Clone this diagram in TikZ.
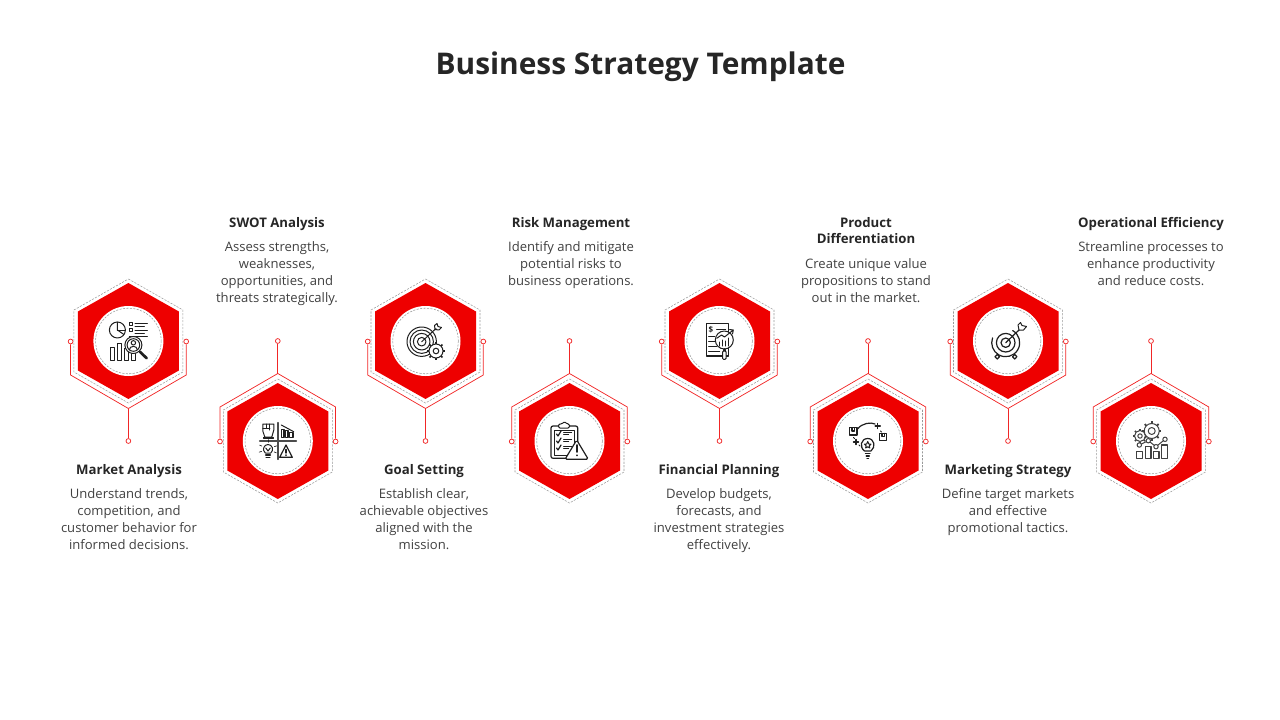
\documentclass[tikz,border=0pt]{standalone}
\usepackage{fontspec}
\setmainfont{Open Sans}
\usetikzlibrary{positioning}
\definecolor{hexred}{HTML}{EE0000}
\definecolor{inkdark}{HTML}{262626}
\definecolor{inkbody}{HTML}{404040}
\tikzset{
  hexfill/.style={fill=hexred,draw=none},
  hexdash/.style={draw=gray!80,line width=0.4pt,dash pattern=on 1.6pt off 1pt},
  hexline/.style={draw=hexred!85!white,line width=0.55pt},
  pinhead/.style={circle,draw=hexred!85!white,fill=white,line width=0.55pt,minimum size=3.6pt,inner sep=0pt},
  headtxt/.style={align=center,inner sep=0pt,text=inkdark,font=\fontsize{9.9}{12}\selectfont\bfseries},
  bodytxt/.style={align=center,inner sep=0pt,text=inkbody,font=\fontsize{9.8}{12.75}\selectfont},
  icon/.style={draw=black!88,line width=0.75pt,line join=round,line cap=round},
  iconthick/.style={icon,line width=1.3pt},
}
% one hexagon with its circuit lines, #4 = 1 stem down, -1 stem up
\newcommand{\hexunit}[4]{
  \begin{scope}[shift={(#2,#3)}]
    \fill[hexfill] (0,-58) -- (50.5,-29.5) -- (50.5,29.5) -- (0,58) -- (-50.5,29.5) -- (-50.5,-29.5) -- cycle;
    \draw[hexdash] (0,-62) -- (54.5,-31) -- (54.5,31) -- (0,62) -- (-54.5,31) -- (-54.5,-31) -- cycle;
    \fill[white] (0,0) circle (35);
    \draw[hexdash] (0,0) circle (32.8);
    \coordinate (#1sl) at (-57.8,34*#4);
    \coordinate (#1sr) at (57.8,34*#4);
    \coordinate (#1tip) at (0,67.5*#4);
    \node[pinhead] (#1l) at (-57.8,0.5) {};
    \node[pinhead] (#1r) at (57.8,0.5) {};
    \node[pinhead] (#1s) at (0,100*#4) {};
    \draw[hexline] (#1l) -- (#1sl) -- (#1tip) -- (#1sr) -- (#1r);
    \draw[hexline] (#1tip) -- (#1s);
  \end{scope}
}
\newcommand{\icongear}[4][icon]{
  \draw[#1,fill=white] (#2) circle (#3);
  \foreach \a in {0,45,...,315}
    \draw[#1,line width=1.3pt,line cap=butt] (#2) ++(\a:#3) -- ++(\a:#3*0.3);
  \draw[#1] (#2) circle (#4);
}
\begin{document}
\begin{tikzpicture}[x=0.75pt,y=-0.75pt]
  \useasboundingbox (0,0) rectangle (1280,720);
  \node[text=inkdark,font=\fontsize{22.4}{28}\selectfont\bfseries] (title) at (640.5,66.5) {Business Strategy Template};

  \hexunit{market}{128.4}{341}{1}
  \hexunit{swot}{277.8}{441}{-1}
  \hexunit{goal}{425.5}{341}{1}
  \hexunit{risk}{569.5}{441}{-1}
  \hexunit{fin}{719.5}{341}{1}
  \hexunit{prod}{868}{441}{-1}
  \hexunit{mark}{1008}{341}{1}
  \hexunit{oper}{1151}{441}{-1}

  % market icon
  \begin{scope}[shift={(128.4,341)}]
    \draw[icon] (-11,-11) circle (8);
    \draw[icon] (-11,-19) -- (-11,-11) -- (-4.5,-6.5);
    \draw[icon] (-11,-11) -- (-3,-11);
    \draw[icon] (1,-18.5) rectangle (4,-15.5) (1,-12.5) rectangle (4,-9.5);
    \draw[icon] (6.6,-17.5) -- (19,-17.5) (6.6,-14.5) -- (16,-14.5) (6.6,-11) -- (19,-11) (6.6,-8) -- (16,-8) (1,-5) -- (19,-5);
    \draw[icon] (-18.4,6) rectangle (-14,19) (-11,2) rectangle (-6.7,19) (-4,7) rectangle (0,19) (3.3,11) rectangle (7.3,19);
    \draw[iconthick,line width=2pt] (11.6,10.7) -- (18.3,17.3);
    \draw[icon,fill=white] (5,4) circle (8.5);
    \draw[icon] (5,4) circle (6.3);
    \draw[icon] (5,1.8) circle (2.2);
    \draw[icon] (1,8.8) arc (180:360:4 and 3.5);
  \end{scope}
  % swot icon
  \begin{scope}[shift={(277.8,441)}]
    \draw[iconthick,draw=black!70] (-18,0) -- (18.5,0) (0.2,-18.3) -- (0.2,18.3);
    \draw[icon] (-15,-17) -- (-15,-10) .. controls (-15,-7) and (-13,-7) .. (-13,-4) -- (-6,-4) .. controls (-6,-7) and (-4,-8) .. (-4,-11) -- (-4,-17) -- cycle;
    \draw[icon] (-15,-13) -- (-8,-13) (-11.5,-17) -- (-11.5,-13) (-8,-17) -- (-8,-11);
    \draw[icon] (-14.5,-2.5) rectangle (-4.5,-4);
    \draw[icon] (3.5,-16) -- (15.9,-9.3);
    \draw[iconthick,line width=0.9pt] (3.5,-11.7) rectangle (6.2,-3.7) (7.5,-10.3) rectangle (10.2,-3.7) (11.9,-8.3) rectangle (15.2,-3.7);
    \draw[icon] (-12.5,12) .. controls (-16,9) and (-14,3.5) .. (-9.8,3.5) .. controls (-5.5,3.5) and (-3.5,9) .. (-7,12) -- cycle;
    \draw[iconthick] (-12,14) -- (-7.5,14) (-11.5,16.5) -- (-8,16.5);
    \draw[icon] (-12,7) -- (-9.8,10) -- (-7.5,7);
    \foreach \a in {-20,25,160,205,270} \draw[icon,line width=0.5pt] (-9.8,8) ++(\a:6.8) -- ++(\a:2.5);
    \draw[icon,line width=0.9pt] (1.9,16.3) -- (14.5,16.3) -- (8.2,4) -- cycle;
    \draw[iconthick,line width=1.1pt] (8.2,8.5) -- (8.2,12) (8.2,14) -- (8.2,14.3);
  \end{scope}
  % goal icon
  \begin{scope}[shift={(425.5,341)}]
    \foreach \r in {14.7,11.7,8.3,4.3} \draw[icon] (-3.8,0.7) circle (\r);
    \draw[icon] (-3.8,0.7) -- (10.5,-12.5);
    \draw[icon] (9.5,-11.5) -- (9,-15.5) -- (11.5,-17.5) -- (12.5,-14.5) -- (16,-13.5) -- (13.5,-11) -- cycle;
    \icongear{10.5,10}{7}{2.8}
  \end{scope}
  % risk icon
  \begin{scope}[shift={(569.5,441)}]
    \draw[icon,line width=0.9pt,rounded corners=1.5pt] (-18.5,-15) rectangle (8.2,17.3);
    \draw[icon] (-15,-11) rectangle (5,14);
    \draw[icon,fill=white,rounded corners=1pt] (-11,-13) -- (-11,-17) -- (-7.5,-17) -- (-5,-19.5) -- (-2.5,-17) -- (0,-17) -- (0,-13) -- cycle;
    \foreach \y in {-7,0,7} {
      \draw[icon,line width=0.9pt] (-13,\y) -- (-11.5,{\y+2}) -- (-8.5,{\y-3});
      \draw[icon] (-6,{\y-2}) -- (2,{\y-2}) (-6,{\y+0.5}) -- (-1,{\y+0.5});
    }
    \draw[icon,line width=0.9pt,fill=white,rounded corners=1.2pt] (-4.5,18.3) -- (18.8,18.3) -- (7.2,-1) -- cycle;
    \draw[iconthick] (7.2,4) -- (7.2,11) (7.2,14.2) -- (7.2,14.5);
  \end{scope}
  % financial icon
  \begin{scope}[shift={(719.5,341)}]
    \draw[icon,line width=0.9pt] (-12.8,-17.7) -- (8.8,-17.7) -- (8.8,15) -- (-12.8,15) -- cycle;
    \node[inner sep=0pt,font=\fontsize{6}{6}\selectfont\bfseries,text=black!88] (finsign) at (-8.5,-11.7) {\$};
    \draw[icon] (-3,-12) -- (6,-12) (-11,-5) -- (-5,-5) (-11,0) -- (-5,0) (-11,5) -- (-3,5) (-11,10) -- (0,10);
    \draw[icon,fill=white] (4.8,-1) circle (9);
    \draw[iconthick,line width=2pt] (4.8,8.5) -- (4.8,10);
    \draw[icon,fill=white,rounded corners=0.8pt] (3,10) rectangle (6.6,18.3);
    \draw[icon] (0,5) -- (0,1) (3,5) -- (3,-1) (6,5) -- (6,0) (9,5) -- (9,-3);
    \draw[icon] (-2.8,-2.7) -- (2,-6) -- (5,-4) -- (13.8,-11) (10,-11.5) -- (13.8,-11) -- (13,-7);
  \end{scope}
  % product icon
  \begin{scope}[shift={(868,441)}]
    \draw[icon,line width=0.9pt] (-3.5,10) .. controls (-9,6) and (-7,-2.5) .. (-0.3,-2.5) .. controls (6.5,-2.5) and (8,6) .. (3,10) -- cycle;
    \draw[iconthick,line width=1pt] (-2.5,12.5) -- (2,12.5) (-1.8,15) -- (1.3,15) (-1,17.5) -- (0.5,17.5);
    \draw[icon] (-0.3,0.5) -- (0.8,3) -- (3,3.2) -- (1.3,4.8) -- (1.8,7) -- (-0.3,5.8) -- (-2.4,7) -- (-1.9,4.8) -- (-3.6,3.2) -- (-1.4,3) -- cycle;
    \draw[icon,line width=0.9pt] (-18.3,-13.3) rectangle (-11,-6) (11.3,-7.7) rectangle (18.7,-0.3);
    \draw[icon,line width=1pt] (-16,-13) -- (-16,-10) -- (-13.5,-10) -- (-13.5,-13) (14,-7.5) -- (14,-4.5) -- (16.5,-4.5) -- (16.5,-7.5);
    \draw[icon,line width=0.9pt] (-10.5,-12) .. controls (-6,-18) and (3,-19) .. (7,-17);
    \draw[iconthick,line width=1.1pt] (9.7,-17.5) -- (9.7,-12.5) (7.2,-15) -- (12.2,-15) (-12,-1.5) -- (-12,3.5) (-14.5,1) -- (-9.5,1);
    \draw[icon] (-14.5,-3.5) -- (-13.5,-2.5) (-9,4) -- (-8,5) (12.5,-10) -- (13.5,-9);
  \end{scope}
  % marketing icon
  \begin{scope}[shift={(1008,341)}]
    \draw[icon,line width=0.9pt] (-2.3,1.7) ++(-60:14) arc (-60:200:14);
    \draw[icon,line width=0.9pt] (-2.3,1.7) circle (9.3) (-2.3,1.7) circle (4.7);
    \draw[icon,line width=0.9pt] (-2.3,1.7) -- (12,-12);
    \draw[icon,fill=white] (11,-11) -- (10,-16) -- (12.5,-18.5) -- (14,-15.5) -- (18.5,-14.5) -- (15.5,-11) -- cycle;
    \draw[icon,line width=0.9pt,fill=white] (-10.7,13.5) -- (-8.5,15.7) -- (-10.7,18) -- (-13,15.7) -- cycle (6.7,13.5) -- (8.9,15.7) -- (6.7,18) -- (4.5,15.7) -- cycle;
  \end{scope}
  % operations icon
  \begin{scope}[shift={(1151,441)}]
    \icongear[icon,draw=inkbody]{-11,-5}{5.5}{2.2}
    \icongear[icon,draw=inkbody]{0.7,-10}{7.5}{3.5}
    \draw[icon,draw=inkbody,line width=0.9pt] (-14.3,10.7) rectangle (-8.7,17.3) (-5.3,5.7) rectangle (0,17.3) (2.3,10.7) rectangle (8,17.3) (10.7,4) rectangle (16.3,17.3);
    \draw[icon,draw=inkbody] (-11.7,4) -- (-2.7,-0.3) -- (5,5.7) -- (14,-1.7);
    \foreach \p in {(-11.7,4),(-2.7,-0.3),(5,5.7),(14,-1.7)}
      \draw[icon,draw=inkbody,fill=white] \p circle (2.2);
  \end{scope}

  % texts
  \node[headtxt] (markethead) at (129,471) {Market Analysis};
  \node[bodytxt,below=7.75pt of markethead] (marketbody) {Understand trends,\\competition, and\\customer behavior for\\informed decisions.};
  \node[headtxt] (swothead) at (277,224) {SWOT Analysis};
  \node[bodytxt,below=7.75pt of swothead] (swotbody) {Assess strengths,\\weaknesses,\\opportunities, and\\threats strategically.};
  \node[headtxt] (goalhead) at (424,471) {Goal Setting};
  \node[bodytxt,below=7.75pt of goalhead] (goalbody) {Establish clear,\\achievable objectives\\aligned with the\\mission.};
  \node[headtxt] (riskhead) at (571,224) {Risk Management};
  \node[bodytxt,below=7.75pt of riskhead] (riskbody) {Identify and mitigate\\potential risks to\\business operations.};
  \node[headtxt] (finhead) at (719,471) {Financial Planning};
  \node[bodytxt,below=7.75pt of finhead] (finbody) {Develop budgets,\\forecasts, and\\investment strategies\\effectively.};
  \node[headtxt,anchor=north] (prodhead) at (866,217) {Product\\Differentiation};
  \node[bodytxt,below=10.75pt of prodhead] (prodbody) {Create unique value\\propositions to stand\\out in the market.};
  \node[headtxt] (markhead) at (1008,471) {Marketing Strategy};
  \node[bodytxt,below=7.75pt of markhead] (markbody) {Define target markets\\and effective\\promotional tactics.};
  \node[headtxt] (operhead) at (1151,224) {Operational Efficiency};
  \node[bodytxt,below=7.75pt of operhead] (operbody) {Streamline processes to\\enhance productivity\\and reduce costs.};
\end{tikzpicture}
\end{document}
